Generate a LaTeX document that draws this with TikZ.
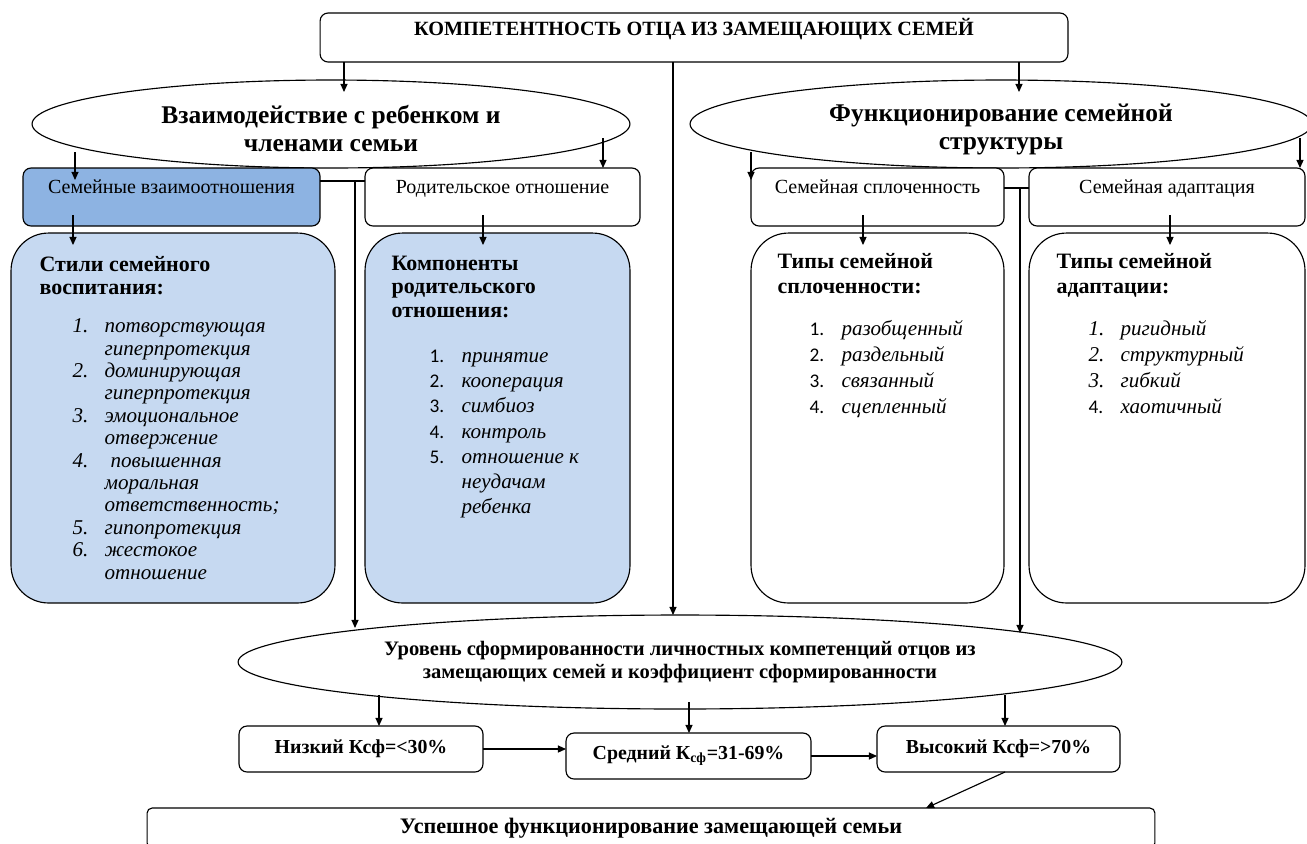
\documentclass[tikz,border=0pt]{standalone}
\usepackage{fontspec}
\setmainfont{Liberation Serif}
\newfontfamily\numfont{Carlito}
\usetikzlibrary{shapes.geometric,positioning,arrows.meta}
\definecolor{midblue}{HTML}{8DB3E2}
\definecolor{paleblue}{HTML}{C6D9F1}
\newcommand{\itm}[2]{\makebox[0.64cm][l]{#1}#2}
\newcommand{\cnt}[1]{\hspace*{0.64cm}#1}
\newcommand{\cn}[1]{{\numfont\upshape\fontsize{11}{13}\selectfont #1}}
\begin{document}
\begin{tikzpicture}[x=0.02cm,y=-0.02cm,line width=0.65pt,>={Triangle[length=4.6pt,width=4pt]},
  box/.style={draw,fill=white,rounded corners=0.16cm,inner sep=0,outer sep=0},
  sbox/.style={box,minimum height=1.16cm,text height=0.3cm,text depth=0.44cm,font=\fontsize{11.4}{14}\selectfont},
  bigbox/.style={draw,fill=white,rounded corners=0.75cm,inner sep=0,outer sep=0,minimum height=7.4cm},
  lvlbox/.style={box,minimum height=0.92cm,font=\bfseries\fontsize{11.3}{13}\selectfont},
  oval/.style={draw,ellipse,inner sep=0,align=center,font=\bfseries\fontsize{14.5}{16}\selectfont},
  head/.style={inner sep=0,align=left,font=\bfseries\fontsize{12.5}{13}\selectfont},
  lst/.style={inner sep=0,align=left,font=\itshape\fontsize{12}{12.75}\selectfont},
  dip/.style={shorten >=-0.24cm}]
\useasboundingbox (0,0) rectangle (1307,843);
\node[box,minimum width=14.96cm,minimum height=0.98cm,text height=0.3cm,text depth=0.38cm,font=\bfseries\fontsize{11.5}{13}\selectfont] (top) at (694,37.5) {КОМПЕТЕНТНОСТЬ ОТЦА ИЗ ЗАМЕЩАЮЩИХ СЕМЕЙ};
\node[oval,minimum width=11.96cm,minimum height=1.76cm] (lell) at (331,124) {\rule{0pt}{16pt}Взаимодействие с ребенком и\\членами семьи};
\node[oval,minimum width=12.44cm,minimum height=1.76cm] (rell) at (1001,124) {\rule{0pt}{16pt}Функционирование семейной\\структуры};
\node[sbox,fill=midblue,minimum width=5.94cm] (semotn) at (171.5,197) {Семейные взаимоотношения};
\node[sbox,minimum width=5.5cm] (rodotn) at (502.5,197) {Родительское отношение};
\node[sbox,minimum width=5.06cm] (splo) at (877.5,197) {Семейная сплоченность};
\node[sbox,minimum width=5.52cm] (adapt) at (1167,197) {Семейная адаптация};
\node[bigbox,fill=paleblue,minimum width=6.48cm] (stili) at (173,418) {};
\node[bigbox,fill=paleblue,minimum width=5.3cm] (komp) at (497.5,418) {};
\node[bigbox,minimum width=5.06cm] (tsplo) at (877.5,418) {};
\node[bigbox,minimum width=5.52cm] (tadapt) at (1167,418) {};
\node[head,below right=0.44cm and 0.56cm of stili.north west] (stilih) {\strut Стили семейного\\воспитания:};
\node[lst,below right=1.67cm and 1.22cm of stili.north west] (stilil) {\strut\itm{1.}{потворствующая}\\ \cnt{гиперпротекция}\\ \itm{2.}{доминирующая}\\ \cnt{гиперпротекция}\\ \itm{3.}{эмоциональное}\\ \cnt{отвержение}\\ \itm{4.}{\hspace{0.12cm}повышенная}\\ \cnt{моральная}\\ \cnt{ответственность;}\\ \itm{5.}{гипопротекция}\\ \itm{6.}{жестокое}\\ \cnt{отношение}};
\node[head,font=\bfseries\fontsize{12.5}{13.3}\selectfont,below right=0.41cm and 0.52cm of komp.north west] (komph) {\strut Компоненты\\родительского\\отношения:};
\node[lst,font=\itshape\fontsize{12}{14.3}\selectfont,below right=2.23cm and 1.28cm of komp.north west] (kompl) {\strut\itm{\cn{1.}}{принятие}\\ \itm{\cn{2.}}{кооперация}\\ \itm{\cn{3.}}{симбиоз}\\ \itm{\cn{4.}}{контроль}\\ \itm{\cn{5.}}{отношение к}\\ \cnt{неудачам}\\ \cnt{ребенка}};
\node[head,font=\bfseries\fontsize{12.5}{14.2}\selectfont,below right=0.35cm and 0.52cm of tsplo.north west] (tsploh) {\strut Типы семейной\\сплоченности:};
\node[lst,font=\itshape\fontsize{12}{14.7}\selectfont,below right=1.68cm and 1.16cm of tsplo.north west] (tsplol) {\strut\itm{\cn{1.}}{разобщенный}\\ \itm{\cn{2.}}{раздельный}\\ \itm{\cn{3.}}{связанный}\\ \itm{\cn{4.}}{сцепленный}};
\node[head,font=\bfseries\fontsize{12.5}{14.2}\selectfont,below right=0.35cm and 0.54cm of tadapt.north west] (tadapth) {\strut Типы семейной\\адаптации:};
\node[lst,font=\itshape\fontsize{12}{14.7}\selectfont,below right=1.68cm and 1.18cm of tadapt.north west] (tadaptl) {\strut\itm{1.}{ригидный}\\ \itm{2.}{структурный}\\ \itm{3.}{гибкий}\\ \itm{\cn{4.}}{хаотичный}};
\node[oval,font=\bfseries\fontsize{11.7}{13.2}\selectfont,minimum width=17.68cm,minimum height=1.88cm] (lvl) at (680,662) {Уровень сформированности личностных компетенций отцов из\\замещающих семей и коэффициент сформированности};
\node[lvlbox,minimum width=4.88cm] (low) at (361,749) {Низкий Ксф=<30\%};
\node[lvlbox,minimum width=4.9cm] (mid) at (688.5,756) {Средний К\textsubscript{сф}=31-69\%};
\node[lvlbox,minimum width=4.86cm] (high) at (998.5,749) {Высокий Ксф=>70\%};
\node[box,rounded corners=0.1cm,minimum width=20.16cm,minimum height=0.8cm,font=\bfseries\fontsize{12.6}{15}\selectfont] (succ) at (651,828) {Успешное функционирование замещающей семьи};
\coordinate (t1) at (344,92);
\coordinate (t2) at (1019,92);
\coordinate (t3) at (673,615);
\draw[->] (top.south -| t1) -- (t1);
\draw[->] (top.south -| t2) -- (t2);
\draw[->] (top.south -| t3) -- (t3);
\coordinate (e1) at (75,152);
\coordinate (e2) at (603,138);
\coordinate (e3) at (751,152);
\coordinate (e4) at (1300,138);
\draw[->,dip] (e1) -- (e1 |- semotn.north);
\draw[->] (e2) -- (e2 |- rodotn.north);
\draw[->,dip] (e3) -- (e3 |- splo.north);
\draw[->] (e4) -- (e4 |- adapt.north);
\coordinate (b1) at (73,215);
\coordinate (b2) at (483,215);
\coordinate (b3) at (863,215);
\coordinate (b4) at (1170,215);
\draw[->,dip] (b1) -- (b1 |- stili.north);
\draw[->,dip] (b2) -- (b2 |- komp.north);
\draw[->,dip] (b3) -- (b3 |- tsplo.north);
\draw[->,dip] (b4) -- (b4 |- tadapt.north);
\coordinate (j1) at (355,181);
\coordinate (v1) at (355,628);
\draw (semotn.east |- j1) -- (rodotn.west |- j1);
\draw[->] (j1) -- (v1);
\coordinate (j2) at (1020,188);
\coordinate (v2) at (1020,633);
\draw (splo.east |- j2) -- (adapt.west |- j2);
\draw[->] (j2) -- (v2);
\coordinate (l1) at (379,695);
\coordinate (l2) at (689,702);
\coordinate (l3) at (1005,695);
\draw[->] (l1) -- (l1 |- low.north);
\draw[->] (l2) -- (l2 |- mid.north);
\draw[->] (l3) -- (l3 |- high.north);
\draw[->] (low.east) -- (low.east -| mid.west);
\draw[->] (mid.east) -- (mid.east -| high.west);
\coordinate (d1) at (926,808);
\draw[->] (high.south -| l3) -- (d1);
\end{tikzpicture}
\end{document}
